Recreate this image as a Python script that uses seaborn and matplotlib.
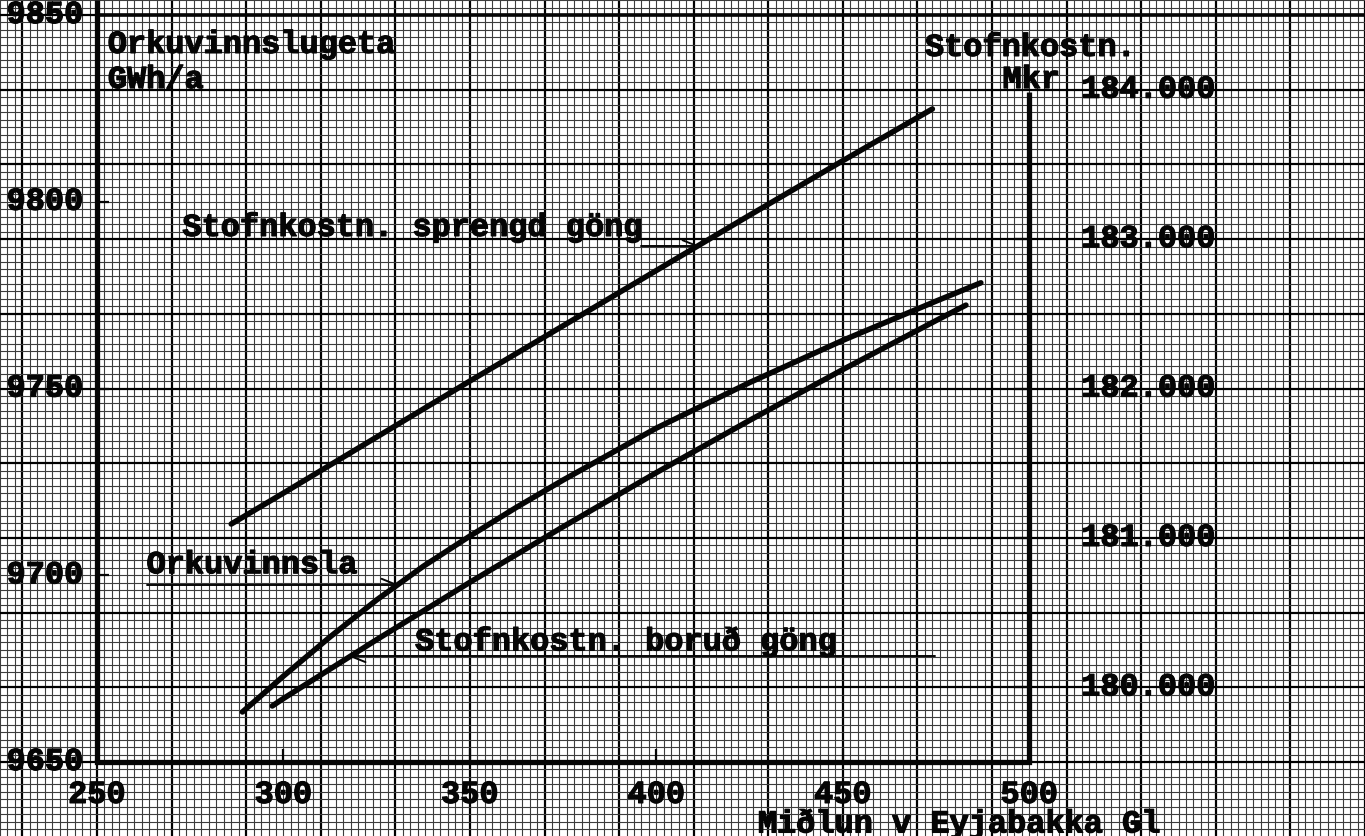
import numpy as np
import matplotlib
matplotlib.use("Agg")
import matplotlib.pyplot as plt
import matplotlib.patheffects as pe
import seaborn as sns

# Miðlun við Eyjabakka (Gl) on the x axis
midlun_sprengd = [286, 300, 325, 350, 375, 400, 425, 450, 474]
kostn_sprengd = [181093, 181300, 181675, 182050, 182420, 182790, 183160, 183525, 183871]

midlun_orka = [289, 300, 312.5, 325, 337.5, 350, 362.5, 375, 400, 425, 450, 475, 487]
orkuvinnsla = [9663.4, 9673.0, 9683.5, 9693.4, 9702.4, 9710.5, 9718.2, 9725.5,
               9739.4, 9751.6, 9762.9, 9773.4, 9778.3]

midlun_borud = [297, 300, 325, 350, 375, 400, 425, 450, 475, 483]
kostn_borud = [179875, 179925, 180319, 180703, 181075, 181437, 181787, 182127, 182455, 182558]

x_ticks = [250, 300, 350, 400, 450, 500]
gwh_ticks = [9650, 9700, 9750, 9800, 9850]
mkr_ticks = [180000, 181000, 182000, 183000, 184000]
mkr_labels = ["180.000", "181.000", "182.000", "183.000", "184.000"]

sns.set_theme(style="white")
plt.rcParams["font.family"] = ["Liberation Mono", "DejaVu Sans Mono"]
plt.rcParams["font.weight"] = "bold"

FS = 23
INK = "#050505"
heavy = [pe.withStroke(linewidth=0.9, foreground=INK)]

fig = plt.figure(figsize=(13.65, 8.36), dpi=100)
ax = fig.add_axes([0, 0, 1, 1])
ax.set_xlim(224.13, 588.13)
ax.set_ylim(9630.19, 9854.02)

# millimetre paper: fine lines every 2 units, heavy every 20
ax.set_xticks(np.arange(230, 600, 20))
ax.set_xticks(np.arange(224, 590, 2), minor=True)
ax.set_yticks(np.arange(9630, 9860, 20))
ax.set_yticks(np.arange(9630, 9856, 2), minor=True)
ax.grid(which="minor", color="#3c3c3c", linewidth=0.8)
ax.grid(which="major", color="#000000", linewidth=1.6)
ax.tick_params(which="both", length=0, labelbottom=False, labelleft=False)
for s in ax.spines.values():
    s.set_visible(False)
ax.set_axisbelow(True)

ax2 = ax.twinx()
ax2.set_ylim(179004.7, 184600.4)
ax2.tick_params(which="both", length=0, labelright=False)
ax2.grid(False)
for s in ax2.spines.values():
    s.set_visible(False)

x0, x1 = x_ticks[0], x_ticks[-1]
y0, y1 = gwh_ticks[0], gwh_ticks[-1]
lw_frame = 3.8


def txt(axis, x, y, s, **kw):
    kw.setdefault("ha", "left")
    kw.setdefault("va", "center")
    axis.text(x, y, s, fontsize=FS, fontweight="bold", color=INK,
              path_effects=heavy, **kw)


# frame
ax.plot([x0, x0], [y0, ax.get_ylim()[1]], color=INK, lw=lw_frame, solid_capstyle="butt")
ax.plot([x0, x1], [y0, y0], color=INK, lw=lw_frame, solid_capstyle="projecting")
ax.plot([x1, x1], [y0, 9829.5], color=INK, lw=lw_frame, solid_capstyle="butt")
ax.plot([x0, ax.get_xlim()[1]], [y1, y1], color=INK, lw=2.6, solid_capstyle="butt")

# tick marks
ax.hlines(gwh_ticks[1:-1], x0, x0 + 3.2, color=INK, lw=1.6)
ax.vlines(x_ticks[1:-1], y0, y0 + 3.5, color=INK, lw=1.6)
ax2.hlines(mkr_ticks[:-1], x1 - 4, x1, color=INK, lw=1.6)

# tick labels
for v in gwh_ticks:
    txt(ax, x0 - 3.6, v, str(v), ha="right")
for v in x_ticks:
    txt(ax, v, 9641.2, str(v), ha="center")
for v, lab in zip(mkr_ticks, mkr_labels):
    txt(ax2, 513.9, v, lab)

# axis titles
txt(ax, 252.9, 9842.0, "Orkuvinnslugeta")
txt(ax, 252.9, 9832.6, "GWh/a")
txt(ax, 472.0, 9841.2, "Stofnkostn.")
txt(ax, 492.8, 9832.6, "Mkr")
txt(ax, 427.2, 9631.15, "Miðlun v Eyjabakka Gl", va="baseline")

# curves
line_kw = dict(color=INK, linewidth=4.0, solid_capstyle="round", legend=False)
sns.lineplot(x=midlun_sprengd, y=kostn_sprengd, ax=ax2, **line_kw)
sns.lineplot(x=midlun_orka, y=orkuvinnsla, ax=ax, **line_kw)
sns.lineplot(x=midlun_borud, y=kostn_borud, ax=ax2, **line_kw)
ax2.set_ylim(179004.7, 184600.4)
ax.set_ylim(9630.19, 9854.02)
ax2.set_ylabel("")
ax.set_xlabel("")


# labels with leader lines ending on the curves
def leader(axis, xs, ys, x_start, x_tip, barb_dx, barb_dy):
    y_tip = float(np.interp(x_tip, xs, ys))
    axis.plot([x_start, x_tip], [y_tip, y_tip], color=INK, lw=1.4)
    axis.plot([x_tip + barb_dx, x_tip], [y_tip + barb_dy, y_tip], color=INK, lw=1.4)


txt(ax, 272.9, 9793.0, "Stofnkostn. sprengd göng")
leader(ax2, midlun_sprengd, kostn_sprengd, 396.0, 411.0, -4.0, 40)

txt(ax, 263.3, 9702.7, "Orkuvinnsla")
leader(ax, midlun_orka, orkuvinnsla, 263.3, 330.5, -4.2, 1.7)

txt(ax, 335.3, 9682.1, "Stofnkostn. boruð göng")
leader(ax2, midlun_borud, kostn_borud, 474.7, 318.0, 4.0, -40)

fig.savefig("out.png", dpi=100, facecolor="white")
